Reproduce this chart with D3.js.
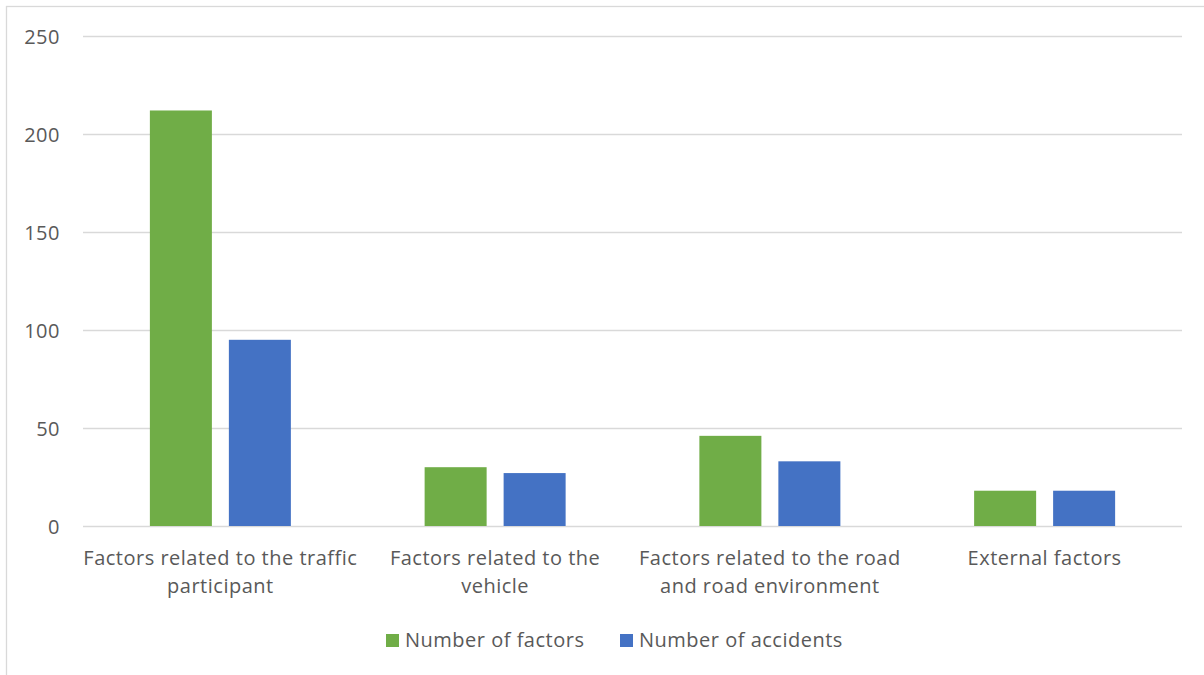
<!DOCTYPE html>
<html>
<head>
<meta charset="utf-8">
<script src="https://cdn.jsdelivr.net/npm/d3@7"></script>
<style>
  body { margin: 0; background: #fff; }
  svg { display: block; }
  text { font-family: "Open Sans", Lato, "Noto Sans", sans-serif; fill: #595959; letter-spacing: 0.5px; }
</style>
</head>
<body>
<svg id="chart" width="1204" height="675"></svg>
<script>
const categories = [
  "Factors related to the traffic\nparticipant",
  "Factors related to the\nvehicle",
  "Factors related to the road\nand road environment",
  "External factors"
];
const seriesNames = ["Number of factors", "Number of accidents"];
const numberOfFactors = [212, 30, 46, 18];
const numberOfAccidents = [95, 27, 33, 18];
const yTicks = [0, 50, 100, 150, 200, 250];
const colors = ["#70ad47", "#4472c4"];

const svg = d3.select("#chart");
const plot = { left: 83, right: 1182, top: 36, bottom: 526 };
const FS = 20;

// outer frame
svg.append("rect")
  .attr("x", 6.5).attr("y", 6.5)
  .attr("width", 1400).attr("height", 1000)
  .attr("fill", "none").attr("stroke", "#d9d9d9").attr("stroke-width", 1.3);

const x0 = d3.scaleBand().domain(categories).range([plot.left, plot.right]).paddingInner(0).paddingOuter(0);
const y = d3.scaleLinear().domain([0, 250]).range([plot.bottom, plot.top]);

// gridlines
const yAxis = d3.axisLeft(y).tickValues(yTicks).tickSize(-(plot.right - plot.left)).tickPadding(23);
const gy = svg.append("g").attr("transform", `translate(${plot.left},0)`).call(yAxis);
gy.select(".domain").remove();
gy.selectAll(".tick line").attr("stroke", "#d9d9d9").attr("stroke-width", 1.3);
gy.selectAll(".tick text").attr("font-size", FS).attr("fill", "#595959").attr("dy", "0.35em");

// bars
const groupWidth = 141;
const x1 = d3.scaleBand().domain([0, 1]).range([0, groupWidth]).paddingInner(0.215).paddingOuter(0);
const data = categories.map((c, i) => ({ c, vals: [numberOfFactors[i], numberOfAccidents[i]] }));
const groups = svg.append("g").selectAll("g").data(data).join("g")
  .attr("transform", d => `translate(${x0(d.c) + x0.bandwidth() / 2 - groupWidth / 2},0)`);
groups.selectAll("rect").data(d => d.vals.map((v, k) => ({ v, k }))).join("rect")
  .attr("x", d => x1(d.k))
  .attr("width", x1.bandwidth())
  .attr("y", d => y(d.v))
  .attr("height", d => y(0) - y(d.v))
  .attr("fill", d => colors[d.k]);

// x axis labels
const xAxis = d3.axisBottom(x0).tickSize(0).tickPadding(0);
const gx = svg.append("g").attr("transform", `translate(0,${plot.bottom})`).call(xAxis);
gx.select(".domain").remove();
gx.selectAll(".tick text").each(function(d) {
  const t = d3.select(this);
  t.text(null).attr("font-size", FS).attr("fill", "#595959").attr("y", 0).attr("dy", null);
  d.split("\n").forEach((line, i) => {
    t.append("tspan").attr("x", 0).attr("y", 39 + i * 28).text(line);
  });
});

// legend
const legendItems = [
  { name: seriesNames[0], color: colors[0], x: 386 },
  { name: seriesNames[1], color: colors[1], x: 620 }
];
const lg = svg.append("g");
legendItems.forEach(it => {
  lg.append("rect").attr("x", it.x).attr("y", 634).attr("width", 13).attr("height", 13).attr("fill", it.color);
  lg.append("text").attr("x", it.x + 19).attr("y", 647).attr("font-size", FS).text(it.name);
});
</script>
</body>
</html>
